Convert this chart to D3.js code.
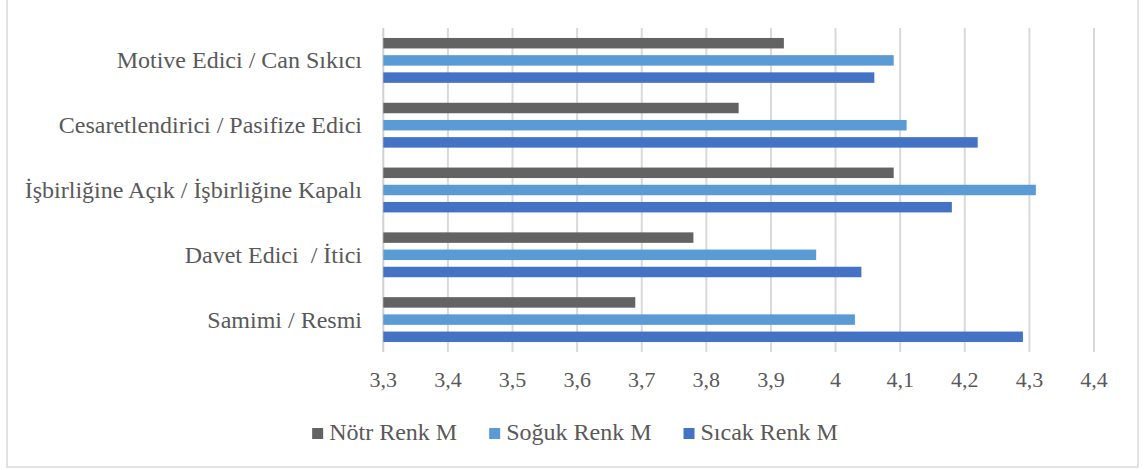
<!DOCTYPE html>
<html>
<head>
<meta charset="utf-8">
<script src="https://cdn.jsdelivr.net/npm/d3@7"></script>
<style>
  body { margin: 0; background: #fff; }
  svg text { fill: #595959; white-space: pre; font-family: "Liberation Serif", "Times New Roman", serif; }
</style>
</head>
<body>
<svg id="chart" width="1146" height="470"></svg>
<script>
// categories, top to bottom
var categories = [
    'Motive Edici / Can Sıkıcı',
    'Cesaretlendirici / Pasifize Edici',
    'İşbirliğine Açık / İşbirliğine Kapalı',
    'Davet Edici  / İtici',
    'Samimi / Resmi'
];
var seriesNames = ['Nötr Renk M', 'Soğuk Renk M', 'Sıcak Renk M'];
var seriesColors = ['#636363', '#5b9bd5', '#4472c4'];

// values per series, same order as categories
var notr   = [3.92, 3.85, 4.09, 3.78, 3.69];
var soguk  = [4.09, 4.11, 4.31, 3.97, 4.03];
var sicak  = [4.06, 4.22, 4.18, 4.04, 4.29];

var tickValues = [3.3, 3.4, 3.5, 3.6, 3.7, 3.8, 3.9, 4.0, 4.1, 4.2, 4.3, 4.4];

var svg = d3.select('#chart');
var allSeries = [notr, soguk, sicak];

// outer frame (top edge is cut off in the original)
svg.append('rect')
    .attr('x', 7).attr('y', -10)
    .attr('width', 1131).attr('height', 477)
    .style('fill', 'none')
    .style('stroke', '#d9d9d9')
    .style('stroke-width', 1.5);

var x = d3.scaleLinear().domain([3.3, 4.4]).range([383.3, 1094]);
var y = d3.scaleBand().domain(categories).range([28, 352]);
var ySub = d3.scaleBand().domain(d3.range(3)).range([0, y.bandwidth()])
    .paddingInner(0.39).paddingOuter(0.58);

// gridlines
svg.append('g').selectAll('line')
    .data(tickValues.slice(1))
  .enter().append('line')
    .attr('x1', function(d) { return x(d); })
    .attr('x2', function(d) { return x(d); })
    .attr('y1', 28).attr('y2', 352)
    .style('stroke', '#d9d9d9')
    .style('stroke-width', 2);

// category axis line
svg.append('line')
    .attr('x1', x(3.3)).attr('x2', x(3.3))
    .attr('y1', 28).attr('y2', 352)
    .style('stroke', '#d0d0d0')
    .style('stroke-width', 2);

// bars
var groups = svg.append('g').selectAll('.cat')
    .data(categories)
  .enter().append('g')
    .classed('cat', true)
    .attr('transform', function(d) { return 'translate(0,' + y(d) + ')'; });

groups.selectAll('rect')
    .data(function(d, i) { return allSeries.map(function(s, j) { return {v: s[i], j: j}; }); })
  .enter().append('rect')
    .attr('x', x(3.3))
    .attr('y', function(d) { return ySub(d.j); })
    .attr('height', ySub.bandwidth())
    .attr('width', function(d) { return x(d.v) - x(3.3); })
    .style('fill', function(d) { return seriesColors[d.j]; });

// category labels
groups.append('text')
    .attr('x', 362)
    .attr('y', y.bandwidth() / 2)
    .attr('dy', '0.33em')
    .attr('text-anchor', 'end')
    .style('font-size', '24px')
    .text(function(d) { return d; });

// x axis tick labels
svg.append('g').selectAll('text')
    .data(tickValues)
  .enter().append('text')
    .attr('x', function(d) { return x(d); })
    .attr('y', 387)
    .attr('text-anchor', 'middle')
    .style('font-size', '22px')
    .text(function(d) { return d3.format('~g')(d).replace('.', ','); });

// legend
var legend = svg.append('g');
var lx = 0;
seriesNames.forEach(function(name, i) {
    var g = legend.append('g').attr('transform', 'translate(' + lx + ',0)');
    g.append('rect')
        .attr('x', 0).attr('y', -12)
        .attr('width', 11).attr('height', 11)
        .style('fill', seriesColors[i]);
    var t = g.append('text')
        .attr('x', 17).attr('y', 0)
        .style('font-size', '24px')
        .text(name);
    lx += 17 + t.node().getComputedTextLength() + 32;
});
var legendWidth = lx - 32;
legend.attr('transform', 'translate(' + (575 - legendWidth / 2) + ',440)');
</script>
</body>
</html>
